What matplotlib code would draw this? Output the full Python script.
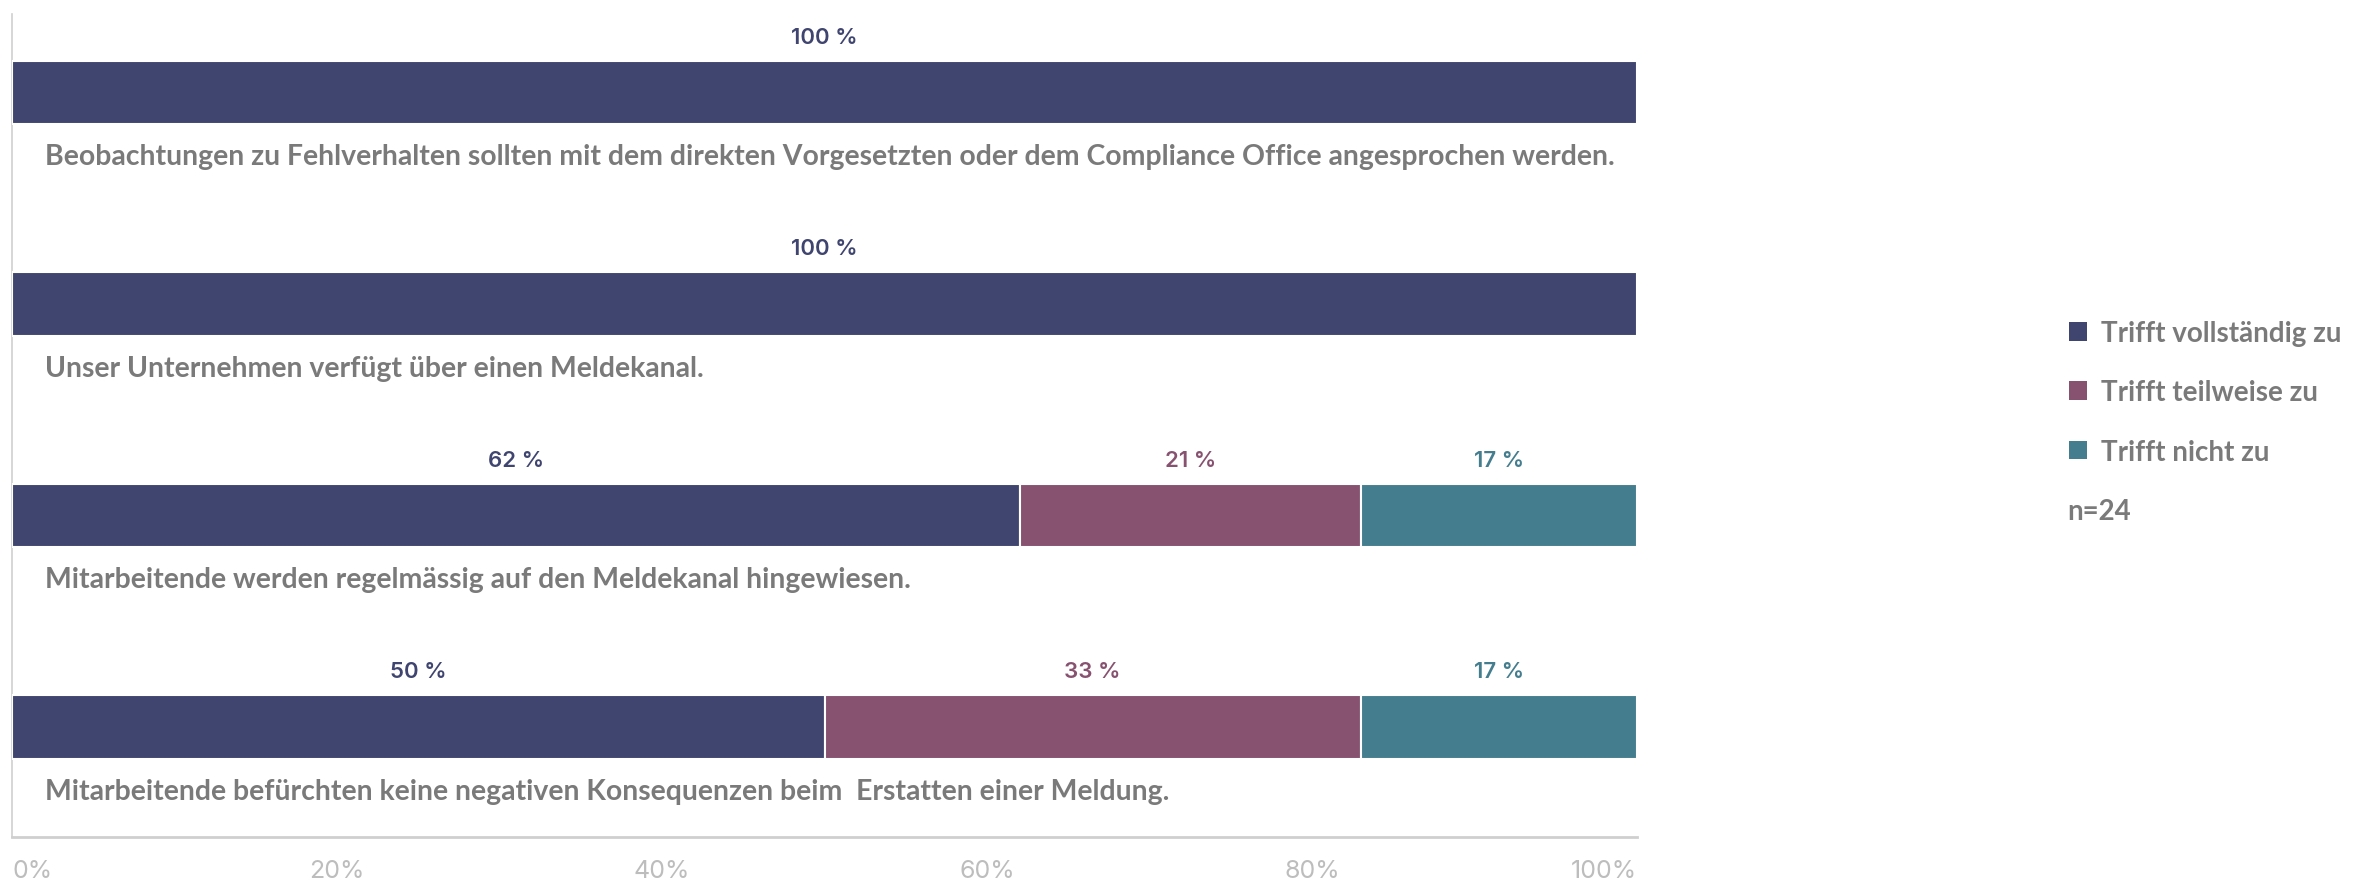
import matplotlib
matplotlib.use("Agg")
import matplotlib.pyplot as plt
from matplotlib.patches import Patch

# ---------------- data ----------------
categories = [
    "Beobachtungen zu Fehlverhalten sollten mit dem direkten Vorgesetzten oder dem Compliance Office angesprochen werden.",
    "Unser Unternehmen verfügt über einen Meldekanal.",
    "Mitarbeitende werden regelmässig auf den Meldekanal hingewiesen.",
    "Mitarbeitende befürchten keine negativen Konsequenzen beim  Erstatten einer Meldung.",
]
series_names = ["Trifft vollständig zu", "Trifft teilweise zu", "Trifft nicht zu"]
trifft_vollstaendig = [100, 100, 62, 50]
trifft_teilweise = [0, 0, 21, 33]
trifft_nicht = [0, 0, 17, 17]
tick_values = [0, 20, 40, 60, 80, 100]
tick_labels = ["0%", "20%", "40%", "60%", "80%", "100%"]
sample_note = "n=24"

# ---------------- style ----------------
colors = ["#404570", "#875170", "#447d8e"]
label_grey = "#7a7a7a"
tick_grey = "#bdbdbd"
axis_grey = "#cfcfcf"
cat_font = "Lato"
num_font = "Inter"

W, H = 2375, 887
fig = plt.figure(figsize=(W / 100, H / 100), dpi=100)
ax = fig.add_axes([12 / W, 1 - 838 / H, (1637 - 12) / W, (838 - 15) / H])

series = [trifft_vollstaendig, trifft_teilweise, trifft_nicht]
ypos = list(range(len(categories)))
bar_h = 0.30

lefts = [0] * len(categories)
for vals, col in zip(series, colors):
    for i, v in enumerate(vals):
        if v <= 0:
            continue
        ax.barh(ypos[i], v, left=lefts[i], height=bar_h, color=col,
                edgecolor="white", linewidth=1.5, zorder=3)
        ax.annotate(f"{v} %", xy=(lefts[i] + v / 2, ypos[i] - bar_h / 2),
                    xytext=(0, 10), textcoords="offset points",
                    ha="center", va="bottom", color=col,
                    fontsize=16, fontweight="semibold", family=num_font)
    lefts = [l + v for l, v in zip(lefts, vals)]

for i, cat in enumerate(categories):
    ax.annotate(cat, xy=(0, ypos[i] + bar_h / 2), xytext=(24, -23),
                textcoords="offset points", ha="left", va="center",
                color=label_grey, fontsize=20.4, fontweight="bold", family=cat_font)

ax.set_xlim(0, 100)
ax.set_ylim(3.52, -0.37)
ax.set_yticks([])
ax.set_xticks(tick_values)
ax.set_xticklabels(tick_labels, color=tick_grey, fontsize=18, family=num_font)
ax.tick_params(axis="x", length=0, pad=16)
tl = ax.get_xticklabels()
tl[0].set_ha("left")
tl[-1].set_ha("right")

for s in ["top", "right"]:
    ax.spines[s].set_visible(False)
ax.spines["left"].set_color(axis_grey)
ax.spines["left"].set_linewidth(1.2)
ax.spines["bottom"].set_color(axis_grey)
ax.spines["bottom"].set_linewidth(2)

handles = [Patch(facecolor=c, edgecolor="none") for c in colors]
leg = fig.legend(handles, series_names, loc="upper left",
                 bbox_to_anchor=(2069 / W, 1 - 321 / H), frameon=False,
                 handlelength=0.65, handleheight=0.65, handletextpad=0.5,
                 labelspacing=1.2, borderaxespad=0, borderpad=0,
                 prop={"family": cat_font, "weight": "bold", "size": 20},
                 labelcolor=label_grey)

fig.text(2067 / W, 1 - 512 / H, sample_note, ha="left", va="center",
         color=label_grey, fontsize=20, fontweight="bold", family=cat_font)

fig.savefig("out.png", dpi=100, facecolor="white")
